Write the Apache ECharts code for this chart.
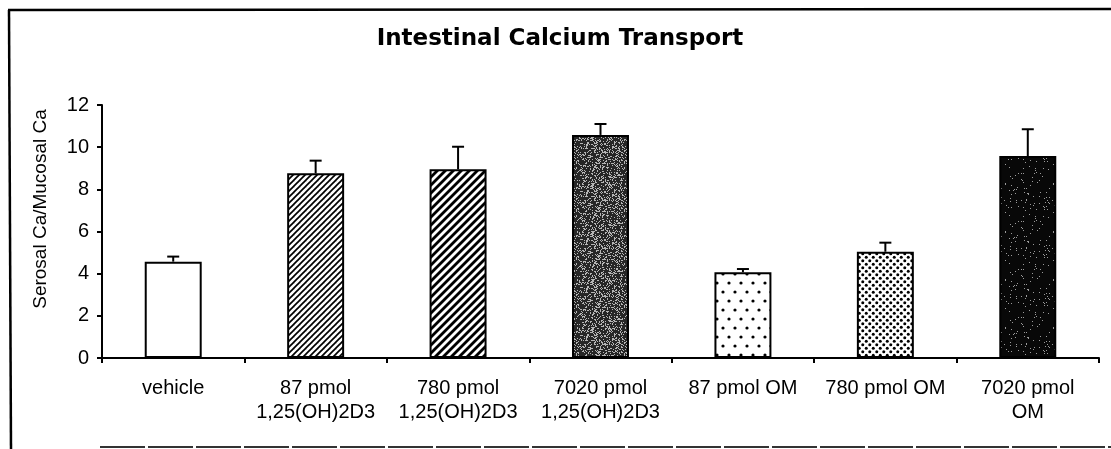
<!DOCTYPE html>
<html>
<head>
<meta charset="utf-8">
<script src="https://cdn.jsdelivr.net/npm/echarts@6/dist/echarts.min.js"></script>
<style>
html,body{margin:0;padding:0;background:#fff;}
#chart{width:1111px;height:449px;}
</style>
</head>
<body>
<div id="chart"></div>
<script>
// ---- data ----
const categories = ['vehicle', '87 pmol\n1,25(OH)2D3', '780 pmol\n1,25(OH)2D3', '7020 pmol\n1,25(OH)2D3', '87 pmol OM', '780 pmol OM', '7020 pmol\nOM'];
const means = [4.57, 8.76, 8.95, 10.58, 4.07, 5.04, 9.58];
const errorTops = [4.81, 9.36, 10.02, 11.1, 4.22, 5.47, 10.85];
const yTicks = { min: 0, max: 12, interval: 2 };
const titleText = 'Intestinal Calcium Transport';
const yAxisTitle = 'Serosal Ca/Mucosal Ca';

// ---- fill patterns (style only) ----
function makeCanvas(w, h, bg) {
  const c = document.createElement('canvas');
  c.width = w; c.height = h;
  const ctx = c.getContext('2d');
  ctx.fillStyle = bg; ctx.fillRect(0, 0, w, h);
  return [c, ctx];
}
function hatch(period, lw) {
  const [c, ctx] = makeCanvas(period, period, '#fff');
  ctx.strokeStyle = '#000'; ctx.lineWidth = lw;
  for (let i = -1; i <= 1; i++) {
    ctx.beginPath();
    ctx.moveTo(i * period - 1, period + 1);
    ctx.lineTo(i * period + period + 1, -1);
    ctx.stroke();
  }
  return c;
}
function speckle(size, bg, fg, frac, seed) {
  const [c, ctx] = makeCanvas(size, size, bg);
  let s = seed;
  const rnd = () => { s = (s * 1103515245 + 12345) % 2147483648; return s / 2147483648; };
  ctx.fillStyle = fg;
  for (let y = 0; y < size; y++) for (let x = 0; x < size; x++) if (rnd() < frac) ctx.fillRect(x, y, 1, 1);
  return c;
}
function dots(w, h, pts, r) {
  const [c, ctx] = makeCanvas(w, h, '#fff');
  ctx.fillStyle = '#000';
  pts.forEach(p => { ctx.beginPath(); ctx.arc(p[0], p[1], r, 0, Math.PI * 2); ctx.fill(); });
  return c;
}
const fills = [
  '#ffffff',
  { image: hatch(6, 1.7), repeat: 'repeat' },
  { image: hatch(8, 2.8), repeat: 'repeat' },
  { image: speckle(48, '#262626', '#b5b5b5', 0.27, 7), repeat: 'repeat' },
  { image: dots(12, 18, [[3, 4], [9, 13]], 1.6), repeat: 'repeat' },
  { image: dots(7, 7, [[1.75, 1.75], [5.25, 5.25]], 1.5), repeat: 'repeat' },
  { image: speckle(48, '#080808', '#9a9a9a', 0.04, 11), repeat: 'repeat' }
];

const font = 'Liberation Sans';
const chart = echarts.init(document.getElementById('chart'), null, { renderer: 'canvas' });
chart.setOption({
  backgroundColor: '#fff',
  animation: false,
  title: {
    text: titleText,
    left: 560, top: 28, textAlign: 'center', padding: 0,
    textStyle: { fontFamily: 'DejaVu Sans', fontWeight: 'bold', fontSize: 23, color: '#000' }
  },
  grid: { left: 102, right: 12, top: 105, bottom: 91, containLabel: false },
  xAxis: {
    type: 'category',
    data: categories,
    axisLine: { lineStyle: { color: '#000', width: 2 } },
    axisTick: { show: true, length: 5, lineStyle: { color: '#000', width: 2 } },
    axisLabel: { interval: 0, color: '#000', fontFamily: font, fontSize: 20, lineHeight: 24, margin: 18 }
  },
  yAxis: {
    type: 'value',
    min: yTicks.min, max: yTicks.max, interval: yTicks.interval,
    splitLine: { show: false },
    axisLine: { show: true, lineStyle: { color: '#000', width: 2 } },
    axisTick: { show: true, length: 5, lineStyle: { color: '#000', width: 2 } },
    axisLabel: { color: '#000', fontFamily: font, fontSize: 20, margin: 13 }
  },
  graphic: [
    { type: 'text', x: 41, y: 209, rotation: Math.PI / 2,
      style: { text: yAxisTitle, fill: '#000', font: '19px "Liberation Sans"', textAlign: 'center', textVerticalAlign: 'middle' } },
    { type: 'line', shape: { x1: 8, y1: 10, x2: 1111, y2: 9 }, style: { stroke: '#000', lineWidth: 2.5 } },
    { type: 'line', shape: { x1: 9, y1: 10, x2: 11, y2: 449 }, style: { stroke: '#000', lineWidth: 2.5 } },
    { type: 'line', shape: { x1: 100, y1: 447, x2: 1111, y2: 447 }, style: { stroke: '#333', lineWidth: 2, lineDash: [45, 3] } }
  ],
  series: [
    {
      type: 'bar',
      barWidth: '40%',
      data: means.map((v, i) => ({ value: v, itemStyle: { color: fills[i] } })),
      itemStyle: { borderColor: '#000', borderWidth: 2 },
      z: 2
    },
    {
      type: 'custom',
      data: means.map((v, i) => [i, v, errorTops[i]]),
      z: 3,
      renderItem: function (params, api) {
        const base = api.coord([api.value(0), api.value(1)]);
        const top = api.coord([api.value(0), api.value(2)]);
        const half = 6;
        return {
          type: 'group',
          children: [
            { type: 'line', shape: { x1: base[0], y1: base[1], x2: top[0], y2: top[1] }, style: { stroke: '#000', lineWidth: 2 } },
            { type: 'line', shape: { x1: top[0] - half, y1: top[1], x2: top[0] + half, y2: top[1] }, style: { stroke: '#000', lineWidth: 2 } }
          ]
        };
      }
    }
  ]
});
</script>
</body>
</html>
